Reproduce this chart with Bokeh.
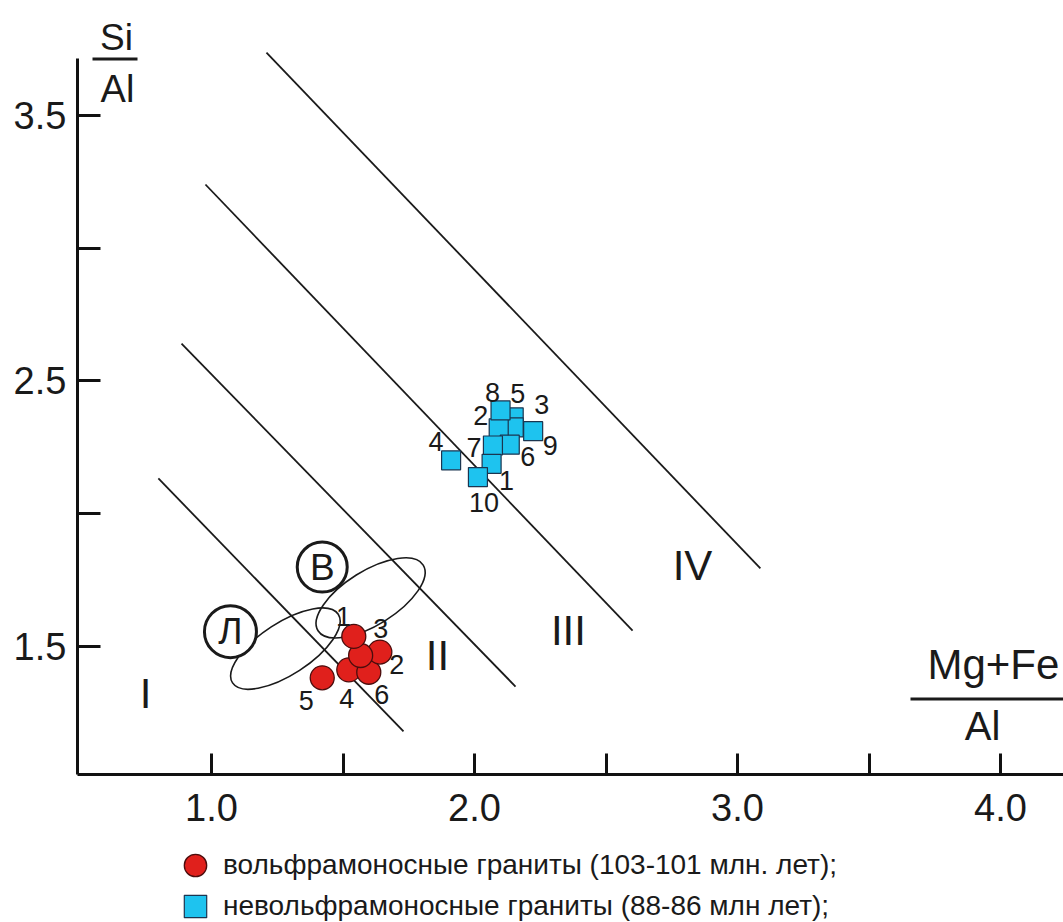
import math
from bokeh.plotting import figure
from bokeh.models import FixedTicker, Label, Legend, LegendItem, BoxAnnotation
from bokeh.core.properties import value
from bokeh.embed import file_html
from bokeh.resources import INLINE

FONT = "Liberation Sans"

# ---- data ----
# tungsten-bearing granites (red circles)
circle_ids = ["5", "4", "6", "2", "1", "3"]
circle_x = [1.421, 1.522, 1.598, 1.640, 1.567, 1.541]
circle_y = [1.382, 1.412, 1.403, 1.479, 1.466, 1.538]
circle_dx = [-16, -2, 13, 17, -17, 27]
circle_dy = [23, 29, 22, 12, -39, -8]

# non-tungsten granites (cyan squares)
square_ids = ["5", "3", "9", "2", "8", "6", "7", "1", "4", "10"]
square_x = [2.149, 2.149, 2.223, 2.092, 2.099, 2.134, 2.070, 2.065, 1.911, 2.013]
square_y = [2.363, 2.325, 2.311, 2.322, 2.389, 2.260, 2.257, 2.188, 2.201, 2.138]
square_dx = [4, 28, 17, -18, -8, 18, -19, 15, -15, 6]
square_dy = [-24, -23, 14, -13, -18, 12, 2, 17, -19, 25]

# field boundaries
bound_x0 = [0.798, 0.886, 0.977, 1.209]
bound_y0 = [2.133, 2.641, 3.240, 3.737]
bound_x1 = [1.730, 2.156, 2.601, 3.087]
bound_y1 = [1.180, 1.349, 1.560, 1.794]

# field names
field_names = ["I", "II", "III", "IV"]
field_x = [0.749, 1.859, 2.357, 2.829]
field_y = [1.323, 1.466, 1.560, 1.805]

# fields of granite types (ellipses) and their circled letters
ell_names = ["Л", "В"]
ell_x = [1.281, 1.605]
ell_y = [1.492, 1.683]
ell_letter_x = [1.072, 1.421]
ell_letter_y = [1.556, 1.799]

x_ticks = [1.0, 1.5, 2.0, 2.5, 3.0, 3.5, 4.0]
x_tick_labels = ["1.0", "", "2.0", "", "3.0", "", "4.0"]
y_ticks = [1.5, 2.0, 2.5, 3.0, 3.5]
y_tick_labels = ["1.5", "", "2.5", "", "3.5"]

legend_labels = ["вольфрамоносные граниты (103-101 млн. лет);",
                 "невольфрамоносные граниты (88-86 млн лет);"]

# ---- figure ----
W, H = 1063, 922
p = figure(width=W, height=H, x_range=(0.1977, 4.2395), y_range=(0.4605, 3.933),
           output_backend="svg", toolbar_location=None, title=None,
           min_border=0, outline_line_color=None)
p.grid.visible = False
p.background_fill_color = "white"
p.border_fill_color = "white"

# axes placed at the corner of the diagram
xa = p.xaxis[0]
xa.fixed_location = 1.018
xa.bounds = (0.49, 4.2395)
xa.ticker = FixedTicker(ticks=x_ticks)
xa.major_label_overrides = {t: l for t, l in zip(x_ticks, x_tick_labels)}
ya = p.yaxis[0]
ya.fixed_location = 0.49
ya.bounds = (1.018, 3.715)
ya.ticker = FixedTicker(ticks=y_ticks)
ya.major_label_overrides = {t: l for t, l in zip(y_ticks, y_tick_labels)}
for ax in (xa, ya):
    ax.axis_line_width = 3
    ax.axis_line_color = "#111111"
    ax.major_tick_line_width = 3
    ax.major_tick_line_color = "#111111"
    ax.major_tick_out = 0
    ax.minor_tick_line_color = None
    ax.major_label_text_font = FONT
    ax.major_label_text_font_size = "38px"
    ax.major_label_text_color = "#1a1a1a"
xa.major_tick_in = 21
xa.major_label_standoff = 20
ya.major_tick_in = 23
ya.major_label_standoff = 11

# boundaries
p.segment(x0=bound_x0, y0=bound_y0, x1=bound_x1, y1=bound_y1,
          line_color="#1a1a1a", line_width=1.8)

# ellipses (fields of granite types)
p.ellipse(x=ell_x, y=ell_y, width=[126, 124], height=[52, 54],
          width_units="screen", height_units="screen",
          angle=[math.radians(33), math.radians(32)],
          fill_color=None, line_color="#1a1a1a", line_width=1.6)
p.scatter(x=ell_letter_x, y=ell_letter_y, size=[52, 50], marker="circle",
          fill_color="white", line_color="#1a1a1a", line_width=3)
p.text(x=ell_letter_x, y=ell_letter_y, text=ell_names, text_align="center",
       text_baseline="middle", text_font=value(FONT), text_font_size="37px",
       text_color="#1a1a1a")

# field names
p.text(x=field_x, y=field_y, text=field_names, text_align="center",
       text_baseline="middle", text_font=value(FONT), text_font_size="42px",
       text_color="#1a1a1a")

# points
rc = p.scatter(x=circle_x, y=circle_y, marker="circle", size=24,
               fill_color="#e0201c", line_color="#4a0d0d", line_width=1.3)
rs = p.scatter(x=square_x, y=square_y, marker="square", size=19,
               fill_color="#1ec3ef", line_color="#1b3550", line_width=1.2)

p.text(x=circle_x, y=circle_y, text=circle_ids, x_offset=circle_dx, y_offset=circle_dy,
       text_align="center", text_baseline="middle", text_font=value(FONT),
       text_font_size="27px", text_color="#1a1a1a")
p.text(x=square_x, y=square_y, text=square_ids, x_offset=square_dx, y_offset=square_dy,
       text_align="center", text_baseline="middle", text_font=value(FONT),
       text_font_size="27px", text_color="#1a1a1a")

# axis titles (fractions)
for txt, xx, yy, size in [("Si", 116, 37, "37px"), ("Al", 117, 88, "38px")]:
    p.add_layout(Label(x=xx, y=H - yy, x_units="screen", y_units="screen", text=txt,
                       text_align="center", text_baseline="middle", text_font=FONT,
                       text_font_size=size, text_color="#1a1a1a"))
p.add_layout(Label(x=927, y=H - 664, x_units="screen", y_units="screen", text="Mg+Fe",
                   text_align="left", text_baseline="middle", text_font=FONT,
                   text_font_size="42px", text_color="#1a1a1a"))
p.add_layout(Label(x=982, y=H - 725, x_units="screen", y_units="screen", text="Al",
                   text_align="center", text_baseline="middle", text_font=FONT,
                   text_font_size="40px", text_color="#1a1a1a"))
# fraction bars
p.add_layout(BoxAnnotation(left=92, right=137, bottom=H - 60, top=H - 57,
                           left_units="screen", right_units="screen",
                           bottom_units="screen", top_units="screen",
                           fill_color="#1a1a1a", fill_alpha=1, line_color=None))
p.add_layout(BoxAnnotation(left=910, right=1063, bottom=H - 700, top=H - 697,
                           left_units="screen", right_units="screen",
                           bottom_units="screen", top_units="screen",
                           fill_color="#1a1a1a", fill_alpha=1, line_color=None))

# legend
for i, (r, lab) in enumerate(zip([rc, rs], legend_labels)):
    centre = [865, 906][i]
    lg = Legend(items=[LegendItem(label=lab, renderers=[r])],
                location=(167, H - centre - 28), padding=0, margin=0,
                glyph_width=56, glyph_height=56, label_standoff=0,
                border_line_color=None, background_fill_alpha=0,
                label_text_font=FONT, label_text_font_size="28px",
                label_text_color="#1a1a1a")
    p.add_layout(lg)

open("out.html", "w").write(file_html(p, INLINE))
